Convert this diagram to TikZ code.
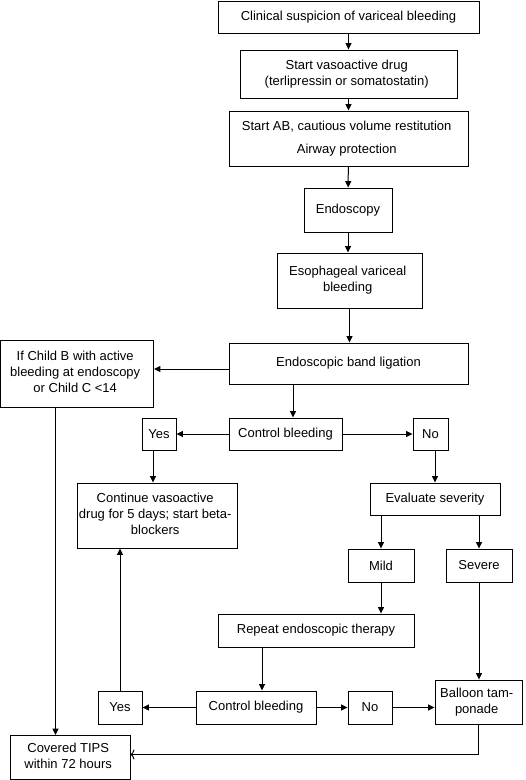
\documentclass[tikz,border=0pt]{standalone}
\usepackage{fontspec}
\setmainfont{Liberation Sans}
\usetikzlibrary{arrows.meta,positioning,calc}
\tikzset{
  invisible/.style={inner sep=0pt},
  action/.style={rectangle, draw, line width=0.9pt, inner sep=1pt, align=center,
    font=\fontsize{13}{16}\selectfont},
  answer/.style={action, minimum height=33pt}}

\begin{document}
\begin{tikzpicture}[x=1pt, y=-1pt]

\tikzset{
toarr/.style={-{Triangle[length=6.5pt,width=6pt]}, line width=1pt},
toarr1/.style={-{To[length=4pt,width=10pt]}, line width=1pt}
}

\useasboundingbox (0,0) rectangle (526,780);

%MAIN COLUMN
\node[action, minimum width=261pt, minimum height=32pt](suspicion) at (348.5,17)
{Clinical suspicion of variceal bleeding};

\node[action, minimum width=217pt, minimum height=48pt](vasoactive) at (348.5,74) {
    \begin{tabular}{@{}c@{}}
        Start vasoactive drug\\(terlipressin or somatostatin)
    \end{tabular}
};

\node[action, minimum width=239pt, minimum height=55pt](restitution) at (348.5,138.5) {
    \begin{tabular}{@{}c@{}}
        Start AB, cautious volume restitution\\[7pt] Airway protection
    \end{tabular}
};

\node[action, minimum width=88pt, minimum height=44pt](endoscopy) at (348,210) {Endoscopy};

\node[action, minimum width=145pt, minimum height=55pt](esophageal) at (349.5,280.5) {
    \begin{tabular}{@{}c@{}}
        Esophageal variceal\\bleeding
    \end{tabular}
};

\node[action, minimum width=239pt, minimum height=41pt](ligation) at (348.5,363.5)
{Endoscopic band ligation};

\draw[toarr] (suspicion) -- (vasoactive);
\draw[toarr] (vasoactive) -- (restitution);
\draw[toarr] (restitution) -- (endoscopy);
\draw[toarr] (endoscopy) -- (endoscopy |- esophageal.north);
\draw[toarr] (esophageal.south) -- (esophageal.south |- ligation.north);

%CHILD B / C
\node[action, minimum width=153pt, minimum height=67pt](child) at (77,373.5) {
    \begin{tabular}{@{}c@{}}
        If Child B with active\\bleeding at endoscopy\\or Child C <14
    \end{tabular}
};

\draw[toarr] ([yshift=-5.5pt]ligation.west) -- ([yshift=-5.5pt]ligation.west -| child.east);

%FIRST CONTROL
\node[action, minimum width=113pt, minimum height=32pt](control1) at (285.5,434) {Control bleeding};
\node[answer, minimum width=34pt, minimum height=32pt](yes1) at (159,434) {Yes};
\node[answer, minimum width=35pt, minimum height=32pt](no1) at (430.5,434) {No};

\coordinate (C1) at ([xshift=7.5pt]control1.north);
\draw[toarr] (C1 |- ligation.south) -- (C1);
\draw[toarr] (control1) -- (yes1);
\draw[toarr] (control1) -- (no1);

\node[action, minimum width=160pt, minimum height=65pt](continue) at (157,515.5) {
    \begin{tabular}{@{}c@{}}
        Continue vasoactive\\drug for 5 days; start beta-\\blockers
    \end{tabular}
};

\node[action, minimum width=130pt, minimum height=32pt](severity) at (435,499) {Evaluate severity};

\coordinate (Y1) at ([xshift=-6pt]yes1.south);
\draw[toarr] (Y1) -- (Y1 |- continue.north);
\draw[toarr] (severity.north |- no1.south) -- (severity.north);

%SEVERITY
\node[answer, minimum width=66pt](mild) at (381,565.5) {Mild};
\node[answer, minimum width=66pt](severe) at (479,565.5) {Severe};

\draw[toarr] (mild.north |- severity.south) -- (mild.north);
\draw[toarr] (severe.north |- severity.south) -- (severe.north);

\node[action, minimum width=196pt, minimum height=33pt](repeat) at (316,630.5)
{Repeat endoscopic therapy};

\draw[toarr] (mild) -- (mild.south |- repeat.north);

%SECOND CONTROL
\node[action, minimum width=120pt, minimum height=33pt](control2) at (256,707.5) {Control bleeding};
\node[answer, minimum width=44pt](yes2) at (120,707.5) {Yes};
\node[answer, minimum width=44pt](no2) at (370,707.5) {No};

\node[action, minimum width=87pt, minimum height=44pt](balloon) at (478.5,702) {
    \begin{tabular}{@{}c@{}}
        Balloon tam-\\ponade
    \end{tabular}
};

\coordinate (C2) at ([xshift=6pt]control2.north);
\draw[toarr] (C2 |- repeat.south) -- (C2);
\draw[toarr] (control2) -- (yes2);
\draw[toarr] (control2) -- (no2);
\draw[toarr] (no2.east) -- (no2.east -| balloon.west);
\draw[toarr] (severe.south) -- (severe.south |- balloon.north);
\draw[toarr] (yes2.north) -- (yes2.north |- continue.south);

%TIPS
\node[action, minimum width=120pt, minimum height=44pt](tips) at (70,757.5) {
    \begin{tabular}{@{}c@{}}
        Covered TIPS\\within 72 hours
    \end{tabular}
};

\coordinate (B1) at ([xshift=-21.5pt]child.south);
\draw[toarr] (B1) -- (B1 |- tips.north);
\draw[toarr1] (balloon.south) |- ([yshift=3pt]tips.east);
\end{tikzpicture}
\end{document}
